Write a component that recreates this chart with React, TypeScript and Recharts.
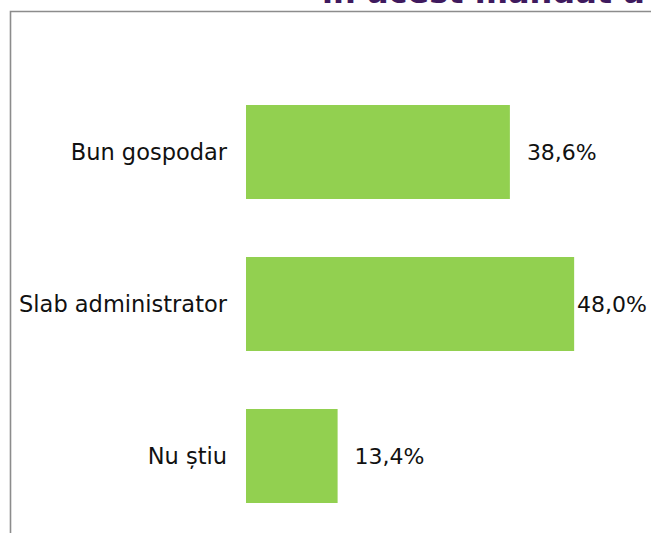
import { Bar, BarChart, LabelList, XAxis, YAxis } from "recharts";

const categories = ["Bun gospodar", "Slab administrator", "Nu știu"];
const shares = [38.6, 48.0, 13.4];

const titleTail = "în acest mandat a";

const data = categories.map((name, i) => ({ name, value: shares[i] }));

const W = 651;
const H = 533;
const FONT = "'DejaVu Sans', sans-serif";

const fmt = (v: number) => v.toFixed(1).replace(".", ",") + "%";

function ValueLabel(props: any) {
  const { x, y, width, height, value } = props;
  const end = x + width;
  // label normally sits to the right of the bar, pushed back inside the frame when it doesn't fit
  const fits = end + 17 + 72 <= W - 4;
  return (
    <text
      x={fits ? end + 17 : W - 4}
      y={y + height / 2}
      dy="0.35em"
      textAnchor={fits ? "start" : "end"}
      fontSize={22}
      fontFamily={FONT}
      fill="#111"
    >
      {fmt(value)}
    </text>
  );
}

export default function App() {
  return (
    <div
      style={{
        position: "absolute",
        left: 0,
        top: 0,
        width: W,
        height: H,
        overflow: "hidden",
        background: "#fff",
      }}
    >
      <svg
        width={W}
        height={H}
        style={{ position: "absolute", left: 0, top: 0 }}
      >
        <text
          x={322}
          y={3}
          fontSize={32}
          fontWeight="bold"
          fontFamily={FONT}
          fill="#3f1a5e"
        >
          {titleTail}
        </text>
        <path d="M10.5 533 V11.5 H651" fill="none" stroke="#8c8c8c" strokeWidth={1.6} />
      </svg>
      <div style={{ position: "absolute", left: 0, top: 0 }}>
        <BarChart
          width={W}
          height={H}
          data={data}
          layout="vertical"
          margin={{ top: 76, right: 29, bottom: 1, left: 0 }}
        >
          <XAxis type="number" domain={[0, 55]} hide />
          <YAxis
            type="category"
            dataKey="name"
            width={246}
            axisLine={false}
            tickLine={false}
            tickSize={0}
            tickMargin={19}
            tick={{ fontSize: 22.5, fill: "#111", fontFamily: FONT }}
          />
          <Bar dataKey="value" fill="#92d050" barSize={94} isAnimationActive={false}>
            <LabelList dataKey="value" content={ValueLabel} />
          </Bar>
        </BarChart>
      </div>
    </div>
  );
}
